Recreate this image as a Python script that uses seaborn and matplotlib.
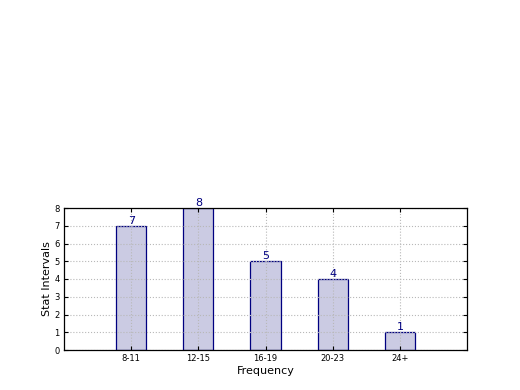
import matplotlib
matplotlib.use("Agg")
import matplotlib.pyplot as plt
import seaborn as sns
import pandas as pd

categories = ["8-11", "12-15", "16-19", "20-23", "24+"]
values = [7, 8, 5, 4, 1]
yticks = [0, 1, 2, 3, 4, 5, 6, 7, 8]

sns.set_style("white")
plt.rcParams['font.family'] = ['DejaVu Sans']
plt.rcParams['text.color'] = 'black'
plt.rcParams['axes.labelcolor'] = 'black'
plt.rcParams['xtick.color'] = 'black'
plt.rcParams['ytick.color'] = 'black'

df = pd.DataFrame({"Frequency": categories, "Count": values})

fig = plt.figure(figsize=(5.2, 3.9), dpi=100)
ax = fig.add_axes([64/520, 1-350/390, (467-64)/520, (350-208)/390])

sns.barplot(data=df, x="Frequency", y="Count", ax=ax, width=0.45,
            color="#cbcbe3", edgecolor="#000080", linewidth=0.9,
            saturation=1, zorder=1)

for i, v in enumerate(values):
    ax.text(i, v, str(v), ha="center", va="bottom", color="#000080",
            fontsize=8, zorder=5)

ax.set_xlim(-1, 5)
ax.set_ylim(0, 8)
ax.set_yticks(yticks)
ax.set_xlabel("Frequency", fontsize=8, labelpad=2, color="black")
ax.set_ylabel("Stat Intervals", fontsize=8, labelpad=2, color="black")
ax.tick_params(axis="both", labelsize=6, direction="in", length=3,
               top=True, right=True, bottom=True, left=True, pad=3,
               colors="black")
ax.set_axisbelow(False)
ax.grid(True, color="0.72", linestyle=":", linewidth=0.8)
for s in ax.spines.values():
    s.set_visible(True)
    s.set_color("black")
    s.set_linewidth(0.9)
    s.set_zorder(4)

fig.savefig("out.png", dpi=100)
